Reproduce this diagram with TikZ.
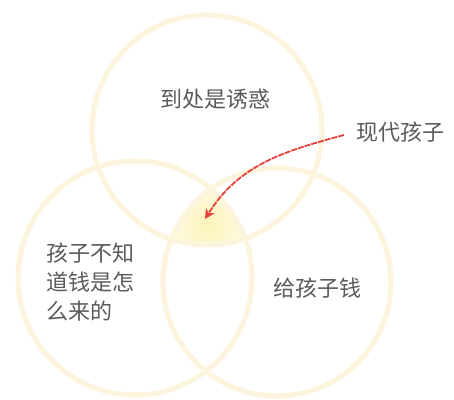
\documentclass[tikz,border=0pt]{standalone}
\usepackage{fontspec}
\setmainfont{Noto Sans CJK SC}
\usetikzlibrary{arrows.meta}
\definecolor{ringyellow}{HTML}{FCF4DC}
\definecolor{glowyellow}{HTML}{FCF3B8}
\definecolor{textgray}{HTML}{5A5A5A}
\definecolor{arrowred}{HTML}{E2413A}
\begin{document}
\begin{tikzpicture}[x=1pt, y=-1pt,
    ring/.style ={circle, draw=ringyellow, line width=5pt, inner sep=0pt, minimum size=230pt},
    caption/.style ={font=\fontsize{22}{29}\selectfont, text=textgray, inner sep=0pt},
    pointer/.style ={draw=arrowred, line width=1.8pt, dash pattern=on 6pt off 1pt,
                     -{Stealth[length=10pt, width=10pt, fill=arrowred]}}]
   \useasboundingbox (0,0) rectangle (454,399);

   % soft glow where all three meet
   \begin{scope}
     \clip (207,130) circle (115);
     \clip (135,278) circle (117);
     \clip (277,282) circle (114);
     \shade[inner color=glowyellow, outer color=white] (208,224) circle (62);
   \end{scope}

   \node[ring] (temptation) at (207,130) {};
   \node[ring, minimum size=234pt] (ignorance) at (135,278) {};
   \node[ring, minimum size=228pt] (money) at (277,282) {};

   \node[caption] (temptlabel) at (215,99) {到处是诱惑};
   \node[caption, align=left, anchor=north west] (ignorelabel) at (46,243) {孩子不知\\道钱是怎\\么来的};
   \node[caption] (moneylabel) at (317,288) {给孩子钱};
   \node[caption, anchor=west] (kids) at (356,132) {现代孩子};

   \coordinate (start) at ([xshift=-12pt, yshift=-3pt]kids.west);
   \coordinate (centre) at (205,219);
   \draw[pointer] (start) to[out=195, in=58] (centre);
 \end{tikzpicture}
\end{document}
